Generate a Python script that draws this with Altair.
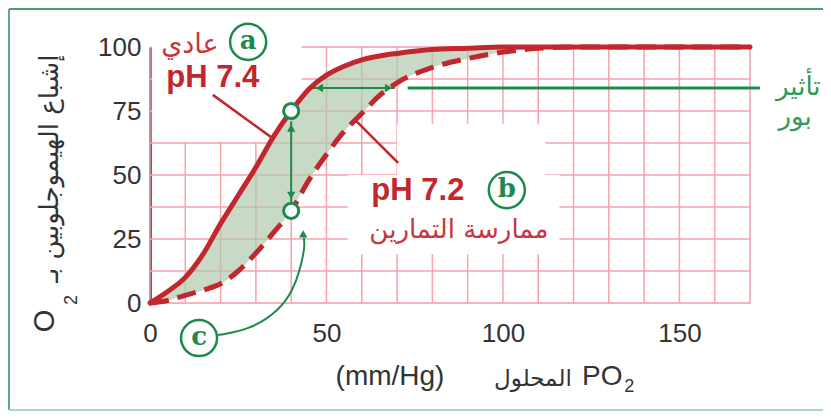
import altair as alt
import pandas as pd

# ---------------- data ----------------
po2 = [0, 5, 10, 15, 20, 25, 30, 35, 40, 45, 50, 55, 60, 65, 70, 80, 90, 100, 110, 120, 140, 170]
sat_ph74 = [0, 4.5, 10, 19, 31, 42, 53, 65, 75, 83.5, 89, 92.5, 95, 96.5, 97.5, 99, 99.5, 100, 100, 100, 100, 100]
sat_ph72 = [0, 1, 3, 5, 7.5, 12.5, 19.5, 27.5, 36, 48, 58, 67, 74, 81, 86, 92, 95.5, 98, 99.5, 100, 100, 100]

x_ticks = [0, 50, 100, 150]
y_ticks = [0, 25, 50, 75, 100]
grid_x = list(range(0, 171, 10))
grid_y = [0, 12.5, 25, 37.5, 50, 62.5, 75, 87.5, 100]

marked_po2 = [40, 40]
marked_sat = [75, 36]

# white areas behind the labels (data units)
mask_x1 = [0.5, 56, 70]
mask_x2 = [43, 116, 112]
mask_y1 = [63, 19, 50]
mask_y2 = [101, 50, 70]

# label texts
lbl_normal = "عادي"
lbl_ph74 = "pH 7.4"
lbl_ph72 = "pH 7.2"
lbl_exercise = "ممارسة التمارين"
lbl_bohr1 = "تأثير"
lbl_bohr2 = "بور"
y_title_ar = "إشباع الهيموجلوبين بـ"
x_title_unit = "(mm/Hg)"
x_title_ar = "المحلول"

# annotation anchor points (data units)
ann_normal = (11.3, 100.8)
ann_ph74 = (17.8, 87.9)
ann_ph72 = (75.9, 43.6)
ann_exercise = (87.0, 28.5)
ann_a = (27.8, 102.0)
ann_b = (101.1, 44.1)
ann_c = (13.9, -13.7)
ptr74 = (17.8, 81.3, 34.6, 64.5)
ptr72 = (58.1, 71.5, 70.3, 54.7)
bohr_y = 84
bohr_arrow = (46.0, 69.4)
bohr_line = (73.0, 172.8)
c_path_x = [19.3, 28.3, 36.8, 40.5, 42.5, 43.9, 43.6]
c_path_y = [-12.5, -10.5, -2.7, 5.1, 12.9, 21.9, 25.5]

RED = "#c1272d"
GREEN = "#1d8a4b"
PINK = "#f6a3ab"
INK = "#333333"

W, H = 600, 256
xscale = alt.Scale(domain=[0, 170], nice=False, zero=False)
yscale = alt.Scale(domain=[0, 100], nice=False, zero=False)
xaxis = alt.Axis(values=x_ticks, domain=False, ticks=False, grid=False, title=None,
                 labelFont="Liberation Sans", labelFontSize=26, labelColor=INK,
                 labelPadding=17, labelFlush=False)
yaxis = alt.Axis(values=y_ticks, domain=True, domainColor=INK, domainWidth=2.5,
                 ticks=False, grid=False, title=None,
                 labelFont="Liberation Sans", labelFontSize=26, labelColor=INK,
                 labelPadding=9, labelFlush=False)


def X(f):
    return alt.X(f, type="quantitative", scale=xscale, axis=xaxis)


def Y(f):
    return alt.Y(f, type="quantitative", scale=yscale, axis=yaxis)


curves = pd.DataFrame({"po2": po2, "s74": sat_ph74, "s72": sat_ph72})

# grid
gx = alt.Chart(pd.DataFrame({"gx": grid_x, "y0": 0, "y1": 100})).mark_rule(
    color=PINK, strokeWidth=1.5).encode(x=X("gx"), y=Y("y0"), y2="y1")
gy = alt.Chart(pd.DataFrame({"gy": grid_y, "x0": 0, "x1": 170})).mark_rule(
    color=PINK, strokeWidth=1.5).encode(y=Y("gy"), x=X("x0"), x2="x1")

masks = alt.Chart(pd.DataFrame({"x1": mask_x1, "x2": mask_x2, "y1": mask_y1, "y2": mask_y2})).mark_rect(
    color="white").encode(x=X("x1"), x2="x2", y=Y("y1"), y2="y2")

area = alt.Chart(curves).mark_area(color="#b0c9ad", opacity=0.7, interpolate="monotone").encode(
    x=X("po2"), y=Y("s72"), y2="s74")

line74 = alt.Chart(curves).mark_line(color=RED, strokeWidth=5, interpolate="monotone",
                                     strokeCap="round").encode(x=X("po2"), y=Y("s74"))
line72 = alt.Chart(curves).mark_line(color=RED, strokeWidth=5, interpolate="monotone",
                                     strokeDash=[19, 9]).encode(x=X("po2"), y=Y("s72"))

# pointers
ptrs = alt.Chart(pd.DataFrame({"x": [ptr74[0], ptr72[0]], "y": [ptr74[1], ptr72[1]],
                               "x2": [ptr74[2], ptr72[2]], "y2": [ptr74[3], ptr72[3]]})).mark_rule(
    color=RED, strokeWidth=2.5).encode(x=X("x"), y=Y("y"), x2="x2", y2="y2")

# green vertical double arrow
varrow = alt.Chart(pd.DataFrame({"x": [40], "y": [71], "y2": [39.5]})).mark_rule(
    color=GREEN, strokeWidth=2).encode(x=X("x"), y=Y("y"), y2="y2")
# horizontal double arrow + Bohr line
harrow = alt.Chart(pd.DataFrame({"x": [bohr_arrow[0]], "x2": [bohr_arrow[1]], "y": [bohr_y]})).mark_rule(
    color=GREEN, strokeWidth=2).encode(x=X("x"), x2="x2", y=Y("y"))
bohr = alt.Chart(pd.DataFrame({"x": [bohr_line[0]], "x2": [bohr_line[1]], "y": [bohr_y]})).mark_rule(
    color=GREEN, strokeWidth=3).encode(x=X("x"), x2="x2", y=Y("y"))

heads = alt.Chart(pd.DataFrame({
    "x": [40, 40, 48.0, 67.6, 43.4],
    "y": [68.3, 42.0, bohr_y, bohr_y, 27.0],
    "shape": ["triangle-up", "triangle-down", "triangle-left", "triangle-right", "triangle-up"],
})).mark_point(filled=True, color=GREEN, opacity=1, size=70).encode(
    x=X("x"), y=Y("y"), shape=alt.Shape("shape:N", scale=None))

cpath = alt.Chart(pd.DataFrame({"x": c_path_x, "y": c_path_y, "i": list(range(len(c_path_x)))})).mark_line(
    color=GREEN, strokeWidth=2, interpolate="basis").encode(x=X("x"), y=Y("y"), order="i:O")

open_pts = alt.Chart(pd.DataFrame({"x": marked_po2, "y": marked_sat})).mark_point(
    shape="circle", filled=False, fill="white", stroke=GREEN, strokeWidth=3, size=230, opacity=1).encode(
    x=X("x"), y=Y("y"))

badges = alt.Chart(pd.DataFrame({"x": [ann_a[0], ann_b[0], ann_c[0]], "y": [ann_a[1], ann_b[1], ann_c[1]],
                                 "t": ["a", "b", "c"]}))
badge_circ = badges.mark_point(shape="circle", filled=False, fill="white", stroke=GREEN,
                               strokeWidth=2.5, size=1300, opacity=1).encode(x=X("x"), y=Y("y"))
badge_txt = badges.mark_text(font="DejaVu Serif", fontWeight="bold", fontSize=26, color=GREEN,
                             baseline="middle", dy=-1).encode(x=X("x"), y=Y("y"), text="t:N")


def txt(x, y, t, **kw):
    return alt.Chart(pd.DataFrame({"x": [x], "y": [y], "t": [t]})).mark_text(baseline="middle", **kw).encode(
        x=X("x"), y=Y("y"), text="t:N")


t_normal = txt(*ann_normal, lbl_normal, font="DejaVu Sans", fontSize=27, color="#c8363c")
t_ph74 = txt(*ann_ph74, lbl_ph74, font="Liberation Sans", fontWeight="bold", fontSize=31, color=RED)
t_ph72 = txt(*ann_ph72, lbl_ph72, font="Liberation Sans", fontWeight="bold", fontSize=31, color=RED)
t_ex = txt(87.5, 28.5, lbl_exercise, font="DejaVu Sans", fontSize=26, color="#c8363c")
t_b1 = txt(190.0, 84.5, lbl_bohr1, font="DejaVu Sans", fontSize=26, color="#2f9a5a", align="right")
t_b2 = txt(187.5, 72.5, lbl_bohr2, font="DejaVu Sans", fontSize=26, color="#2f9a5a", align="right")

# axis titles
t_xunit = txt(68.0, -29.0, x_title_unit, font="Liberation Sans", fontSize=28, color=INK)
t_xar = txt(108.5, -29.5, x_title_ar, font="DejaVu Sans", fontSize=23, color=INK)
t_xpo = txt(122.4, -29.0, "PO", font="Liberation Sans", fontSize=28, color=INK, align="left")
t_x2 = txt(135.8, -33.0, "2", font="Liberation Sans", fontSize=18, color=INK)
t_yar = txt(-28.3, 52.5, y_title_ar, font="DejaVu Sans", fontSize=26, color=INK, angle=270)
t_yo = txt(-29.7, -7.0, "O", font="Liberation Sans", fontSize=29, color=INK, angle=270)
t_y2 = txt(-22.1, 1.2, "2", font="Liberation Sans", fontSize=18, color=INK, angle=270)

# frame (pixel positions relative to plot area)
frame_top = alt.Chart(pd.DataFrame({"k": [0]})).mark_rule(color="#4f9d6e", strokeWidth=2).encode(
    x=alt.value(-141), x2=alt.value(700), y=alt.value(-38))
frame_left = alt.Chart(pd.DataFrame({"k": [0]})).mark_rule(color="#62ab80", strokeWidth=2).encode(
    x=alt.value(-141), y=alt.value(-38), y2=alt.value(363))
frame_bottom = alt.Chart(pd.DataFrame({"k": [0]})).mark_rule(color="#a8d9bb", strokeWidth=2).encode(
    x=alt.value(-141), x2=alt.value(700), y=alt.value(363))

chart = alt.layer(
    gx, gy, masks, area, ptrs, varrow, harrow, bohr, cpath, line74, line72, heads, open_pts,
    badge_circ, badge_txt, t_normal, t_ph74, t_ph72, t_ex, t_b1, t_b2,
    t_xunit, t_xar, t_xpo, t_x2, t_yar, t_yo, t_y2, frame_top, frame_left, frame_bottom,
).properties(
    width=W, height=H,
    autosize=alt.AutoSizeParams(type="none"),
    padding={"left": 142, "top": 39, "right": 73, "bottom": 108},
).configure_view(stroke=None).configure(background="white")

chart.save("out.html", embed_options={"renderer": "svg", "actions": False})
